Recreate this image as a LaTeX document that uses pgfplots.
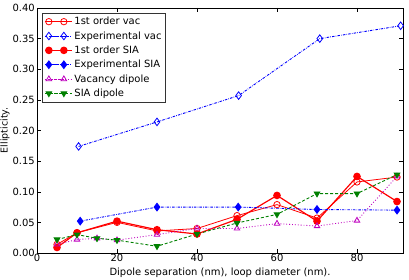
\documentclass[border=0pt]{standalone}
\usepackage{fontspec}
\setmainfont{DejaVu Sans}
\usepackage{pgfplots}
\pgfplotsset{compat=1.18}
\definecolor{mplred}{rgb}{1,0,0}
\definecolor{mplblue}{rgb}{0,0,1}
\definecolor{mplmag}{rgb}{0.75,0,0.75}
\definecolor{mplgreen}{rgb}{0,0.5,0}
\begin{document}
\begin{tikzpicture}
\begin{axis}[
  scale only axis, width=366bp, height=245bp,
  xmin=0, xmax=91.5, ymin=0, ymax=0.40,
  xtick={0,20,40,60,80},
  ytick={0,0.05,0.10,0.15,0.20,0.25,0.30,0.35,0.40},
  yticklabel style={/pgf/number format/fixed, /pgf/number format/fixed zerofill, /pgf/number format/precision=2},
  /pgf/number format/assume math mode=true,
  scaled y ticks=false,
  tick align=inside,
  major tick length=4bp,
  minor tick num=0,
  tick style={black, line width=0.5pt},
  axis line style={black, line width=0.6pt},
  font=\fontsize{10}{12}\selectfont,
  xlabel={Dipole separation (nm), loop diameter (nm).},
  ylabel={Ellipticity.},
  xlabel style={at={(axis description cs:0.5,0)}, anchor=north, yshift=-11bp},
  ylabel style={at={(axis description cs:0,0.5)}, anchor=south, yshift=24bp, font=\fontsize{9.5}{11}\selectfont},
  xticklabel style={inner sep=1bp},
  yticklabel style={inner sep=1bp, xshift=-1bp},
  legend style={at={(axis description cs:0.0137,0.98)}, anchor=north west,
    draw=black!80, line width=0.5pt, fill=white, inner sep=2bp,
    font=\fontsize{10}{12}\selectfont, row sep=1.3bp},
  legend cell align=left,
  legend image code/.code={\path (0bp,0bp) -- (27bp,0bp);\draw[#1] plot coordinates {(4bp,0bp) (19bp,0bp)};},
]
\coordinate (sw) at (rel axis cs:0,0);
\coordinate (ne) at (rel axis cs:1,1);
% 1st order vac
\addplot[mplred, line width=0.8pt, mark=o, mark size=3.2pt, mark options={solid, line width=0.8pt}] coordinates {
 (5,0.014) (10,0.033) (20,0.050) (30,0.036) (40,0.040) (50,0.061) (60,0.079) (70,0.057) (80,0.116) (90,0.124)};
\addlegendentry{1st order vac}
% Experimental vac
\addplot[mplblue, line width=0.9pt, dash pattern=on 2.5pt off 1.2pt on 0.6pt off 1.2pt, mark=diamond, mark size=3.8pt, mark options={solid, line width=0.8pt}] coordinates {
 (10.4,0.174) (30,0.214) (50.4,0.257) (70.7,0.350) (90.9,0.371)};
\addlegendentry{Experimental vac}
% 1st order SIA
\addplot[mplred, line width=1.2pt, mark=*, mark size=3.2pt, mark options={solid}] coordinates {
 (5,0.009) (10,0.033) (20,0.052) (30,0.038) (40,0.031) (50,0.055) (60,0.094) (70,0.052) (80,0.125) (90,0.084)};
\addlegendentry{1st order SIA}
% Experimental SIA
\addplot[mplblue, line width=0.9pt, dash pattern=on 2.5pt off 1.2pt on 0.6pt off 1.2pt, mark=diamond*, mark size=3.8pt, mark options={solid}] coordinates {
 (10.8,0.052) (30,0.075) (50.3,0.075) (70,0.071) (90,0.070)};
\addlegendentry{Experimental SIA}
% Vacancy dipole
\addplot[mplmag, line width=0.9pt, dotted, mark=triangle, mark size=3.2pt, mark options={solid, line width=0.8pt}] coordinates {
 (5,0.014) (10,0.022) (15,0.024) (20,0.021) (30,0.030) (40,0.040) (50,0.040) (60,0.048) (70,0.044) (80,0.053) (90,0.125)};
\addlegendentry{Vacancy dipole}
% SIA dipole
\addplot[mplgreen, line width=0.9pt, dash pattern=on 3pt off 2pt, mark=triangle*, mark size=3.2pt, mark options={solid, rotate=180}] coordinates {
 (5,0.022) (10,0.030) (15,0.024) (20,0.021) (30,0.011) (40,0.031) (50,0.049) (60,0.063) (70,0.097) (80,0.097) (90,0.128)};
\addlegendentry{SIA dipole}
\end{axis}
\pgfresetboundingbox
\path[use as bounding box] ([shift={(-37bp,-27bp)}]sw) rectangle ([shift={(6bp,8bp)}]ne);
\end{tikzpicture}
\end{document}
